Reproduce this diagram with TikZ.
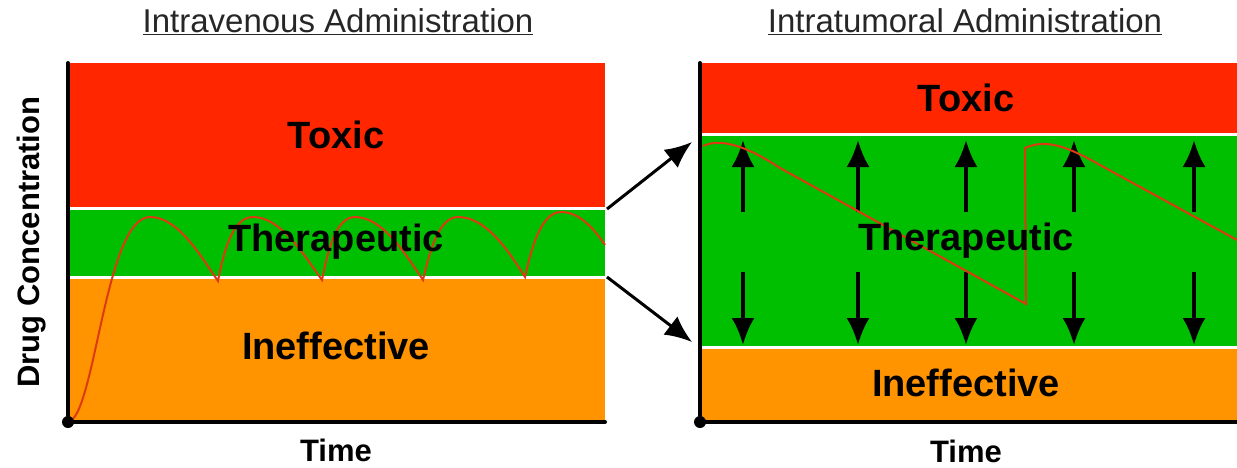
\documentclass[tikz,border=0pt]{standalone}
\usepackage{fontspec}
\setmainfont{Liberation Sans}
\usetikzlibrary{arrows.meta}
\definecolor{toxred}{HTML}{FF2600}
\definecolor{thergreen}{HTML}{00BF00}
\definecolor{inorange}{HTML}{FF9300}
\definecolor{doseline}{HTML}{DD3A14}
\begin{document}
\begin{tikzpicture}[x=1pt, y=-1pt,
  zone/.style={font=\fontsize{38}{42}\selectfont\bfseries},
  axlabel/.style={font=\fontsize{31}{34}\selectfont\bfseries, inner sep=1pt},
  paneltitle/.style={font=\fontsize{33}{36}\selectfont, text=black!85},
  bigarrow/.style={-{Latex[length=27pt,width=23pt]}, line width=3.5pt},
  sep/.style={white, line width=3pt},
  axis/.style={line width=4pt, line cap=round},
  dose/.style={doseline, line width=2pt}]
\useasboundingbox (0,0) rectangle (1237,467);

% intravenous panel
\fill[toxred] (68,63) rectangle (605,208);
\fill[thergreen] (68,208) rectangle (605,277);
\fill[inorange] (68,277) rectangle (605,422);
\draw[sep] (68,208) -- (605,208);
\draw[sep] (68,277) -- (605,277);

\draw[dose] (68,422) .. controls (95,418) and (105,217) .. (150,217)
  .. controls (178,217) and (200,255) .. (218,281)
  .. controls (224,250) and (233,217) .. (253,217)
  .. controls (281,217) and (304,255) .. (322,280)
  .. controls (328,250) and (336,217) .. (355,217)
  .. controls (383,217) and (406,255) .. (423,280)
  .. controls (430,250) and (439,217) .. (458,217)
  .. controls (486,217) and (508,250) .. (525,277)
  .. controls (532,245) and (542,212) .. (561,212)
  .. controls (580,212) and (595,230) .. (605,245);

\node[zone](ivtoxic) at (336,135) {Toxic};
\node[zone](ivthera) at (336,242) {Therapeutic};
\node[zone](ivineff) at (336,346) {Ineffective};

\coordinate (ivorig) at (68,422);
\draw[axis] (68,63) -- (ivorig) -- (605,422);
\fill (ivorig) circle (6);

\node[paneltitle](ivtitle) at (338,22) {\underline{Intravenous Administration}};
\node[axlabel, anchor=base](ivtime) at (336,461) {Time};
\node[axlabel, rotate=90](conc) at (32,242) {Drug Concentration};

% intratumoral panel
\fill[toxred] (700,63) rectangle (1237,134);
\fill[thergreen] (700,134) rectangle (1237,347);
\fill[inorange] (700,347) rectangle (1237,422);
\draw[sep] (700,134) -- (1237,134);
\draw[sep] (700,347) -- (1237,347);

\foreach \xa [count=\i] in {743,858,966,1074,1194}{
  \coordinate (uptail\i) at (\xa,212);
  \coordinate (uptip\i) at (\xa,140);
  \coordinate (dntail\i) at (\xa,272);
  \coordinate (dntip\i) at (\xa,345);
  \draw[bigarrow] (uptail\i) -- (uptip\i);
  \draw[bigarrow] (dntail\i) -- (dntip\i);
}

\draw[dose] (703,146) .. controls (720,138) and (745,145) .. (780,168)
  -- (1026,304) -- (1025,148)
  .. controls (1045,139) and (1065,145) .. (1100,165) -- (1237,240);

\node[zone](ittoxic) at (966,98) {Toxic};
\node[zone](itthera) at (966,241) {Therapeutic};
\node[zone](itineff) at (966,383) {Ineffective};

\coordinate (itorig) at (700,422);
\draw[axis] (700,63) -- (itorig) -- (1237,422);
\fill (itorig) circle (6);

\node[paneltitle](ittitle) at (965,22) {\underline{Intratumoral Administration}};
\node[axlabel, anchor=base](ittime) at (966,462) {Time};

% zoom arrows
\coordinate (ivhigh) at (607,209);
\coordinate (ivlow) at (607,277);
\coordinate (ithigh) at (692,142);
\coordinate (itlow) at (692,342);
\draw[bigarrow, line width=3pt] (ivhigh) -- (ithigh);
\draw[bigarrow, line width=3pt] (ivlow) -- (itlow);

\end{tikzpicture}
\end{document}
